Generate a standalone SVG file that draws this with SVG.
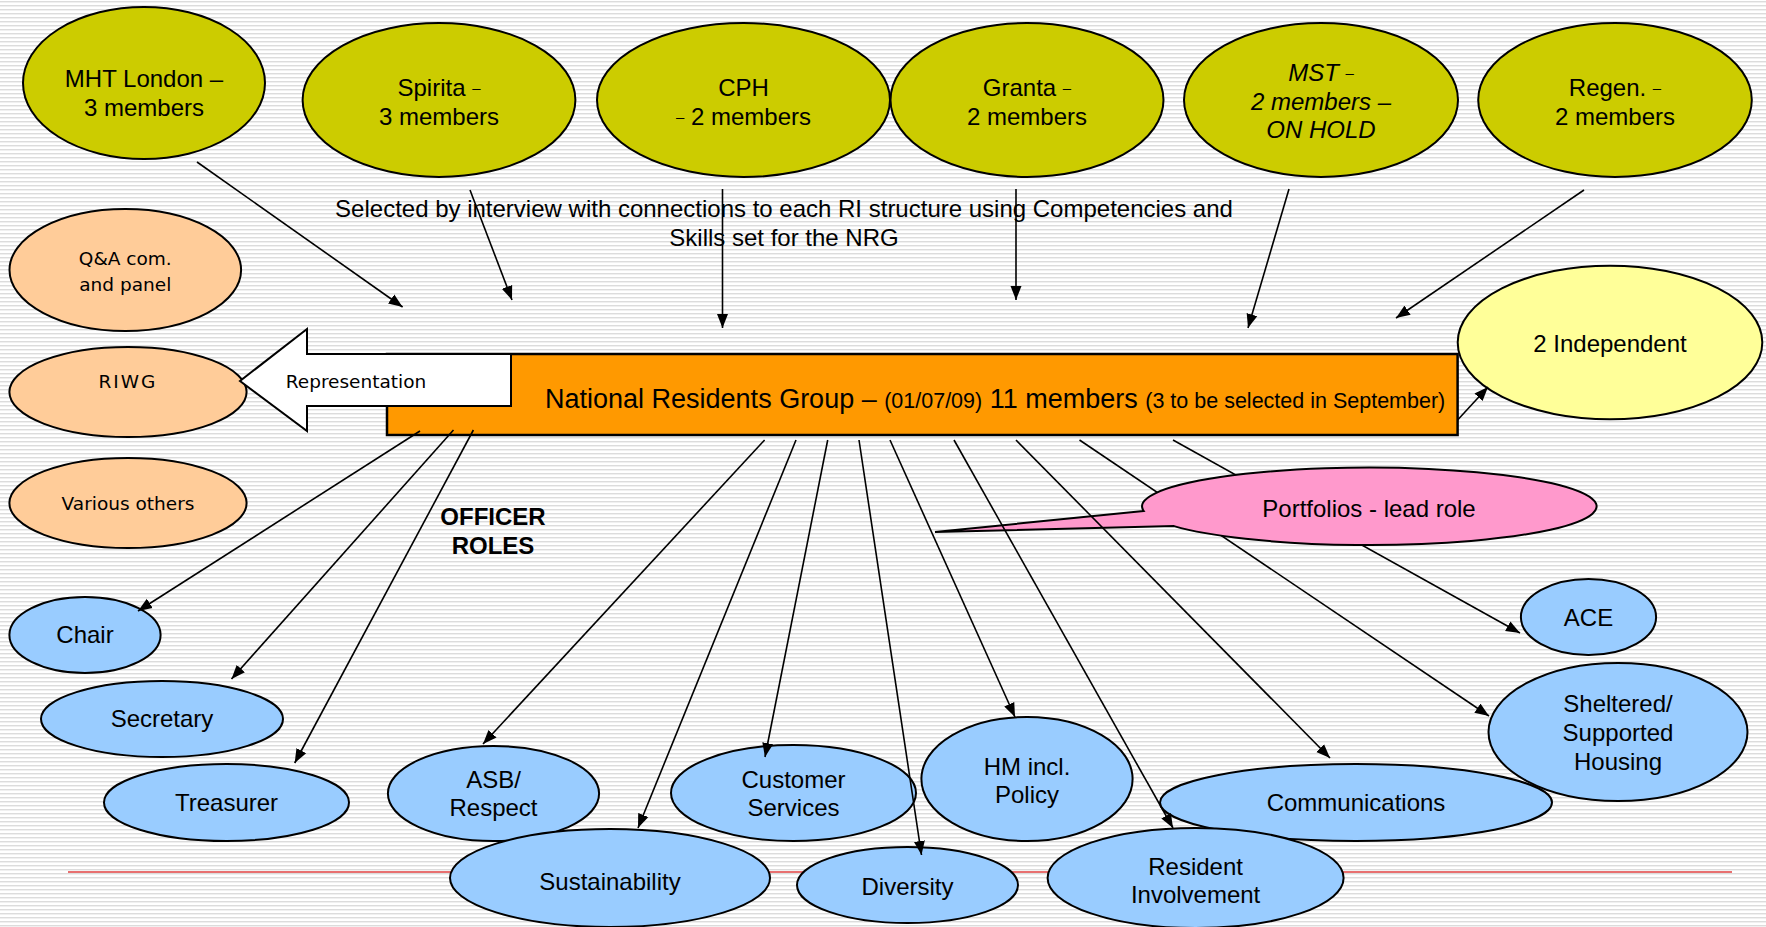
<svg xmlns="http://www.w3.org/2000/svg" width="1766" height="927" viewBox="0 0 1766 927">
<defs>
<pattern id="bg" width="8" height="4" patternUnits="userSpaceOnUse">
<rect width="8" height="4" fill="#ffffff"/>
<rect y="1" width="8" height="1" fill="#DCDCDC"/>
<rect y="2" width="8" height="1" fill="#F0F0F0"/>
</pattern>
<marker id="ah" markerWidth="16" markerHeight="12" refX="14" refY="6" orient="auto" markerUnits="userSpaceOnUse">
<path d="M0,0.5 L14,6 L0,11.5 z" fill="#000"/>
</marker>
<style>
.olive{fill:#CCCC00;stroke:#000;stroke-width:2}
.peach{fill:#FFCC99;stroke:#000;stroke-width:2}
.blue{fill:#99CCFF;stroke:#000;stroke-width:2}
.t{font-family:"Liberation Sans",Arial,sans-serif;font-size:24px;fill:#000;text-anchor:middle}
.th{font-family:"DejaVu Sans",Verdana,sans-serif;font-size:18.5px;fill:#000;text-anchor:middle}
.sd{font-size:15px}
.con line{stroke:#000;stroke-width:1.6;marker-end:url(#ah)}
</style>
</defs>
<rect width="1766" height="927" fill="url(#bg)"/>
<line x1="68" y1="872" x2="1732" y2="872" stroke="#E04040" stroke-width="1.5"/>

<g id="mht"><ellipse class="olive" cx="144" cy="83" rx="121" ry="76"/>
<text class="t" x="144" y="87">MHT London –</text><text class="t" x="144" y="116">3 members</text></g>
<g id="spirita"><ellipse class="olive" cx="439" cy="100" rx="136.4" ry="77"/>
<text class="t" x="439" y="96">Spirita <tspan class="sd" dy="-3">–</tspan></text><text class="t" x="439" y="125">3 members</text></g>
<g id="cph"><ellipse class="olive" cx="743.5" cy="100" rx="146.5" ry="77"/>
<text class="t" x="743.5" y="96">CPH</text><text class="t" x="743.5" y="125"><tspan class="sd" dy="-3">–</tspan><tspan dy="3"> 2 members</tspan></text></g>
<g id="granta"><ellipse class="olive" cx="1027" cy="100" rx="136.5" ry="77"/>
<text class="t" x="1027" y="96">Granta <tspan class="sd" dy="-3">–</tspan></text><text class="t" x="1027" y="125">2 members</text></g>
<g id="mst"><ellipse class="olive" cx="1321" cy="100" rx="137" ry="77"/>
<text class="t" x="1321" y="81" font-style="italic">MST <tspan class="sd" dy="-3">–</tspan></text><text class="t" x="1321" y="110" font-style="italic">2 members –</text><text class="t" x="1321" y="138" font-style="italic">ON HOLD</text></g>
<g id="regen"><ellipse class="olive" cx="1615" cy="100" rx="136.8" ry="77"/>
<text class="t" x="1615" y="96">Regen. <tspan class="sd" dy="-3">–</tspan></text><text class="t" x="1615" y="125">2 members</text></g>

<g id="selected-note"><text class="t" x="784" y="217">Selected by interview with connections to each RI structure using Competencies and</text>
<text class="t" x="784" y="246">Skills set for the NRG</text></g>

<g id="qa"><ellipse class="peach" cx="125.3" cy="270" rx="115.8" ry="61"/>
<text class="th" x="125.3" y="265">Q&amp;A com.</text><text class="th" x="125.3" y="291">and panel</text></g>
<g id="riwg"><ellipse class="peach" cx="128" cy="392" rx="118.6" ry="45"/>
<text class="th" x="128" y="387.5" letter-spacing="2">RIWG</text></g>
<g id="various"><ellipse class="peach" cx="128" cy="503" rx="118.6" ry="45"/>
<text class="th" x="128" y="510">Various others</text></g>

<g id="nrg"><rect x="387" y="354" width="1070.6" height="81" fill="#FF9900" stroke="#000" stroke-width="2.5"/>
<text font-family="&quot;Liberation Sans&quot;,Arial,sans-serif" font-size="27" x="545" y="407.5">National Residents Group – <tspan font-size="21.5">(01/07/09)</tspan> 11 members <tspan font-size="21.5">(3 to be selected in September)</tspan></text></g>

<g id="representation"><polygon points="240,381 307,329 307,354 511,354 511,406 307,406 307,431" fill="#fff" stroke="#000" stroke-width="2"/>
<text class="th" x="356" y="387.5" font-size="19">Representation</text></g>

<g id="independent"><ellipse cx="1610" cy="342.5" rx="152.3" ry="76.8" fill="#FFFF99" stroke="#000" stroke-width="2"/>
<text class="t" x="1610" y="352">2 Independent</text></g>

<g id="officer-roles"><text class="t" x="493" y="525" font-weight="bold">OFFICER</text><text class="t" x="493" y="553.5" font-weight="bold">ROLES</text></g>

<g id="chair"><ellipse class="blue" cx="85" cy="635" rx="75.6" ry="38"/><text class="t" x="85" y="643">Chair</text></g>
<g id="secretary"><ellipse class="blue" cx="162" cy="719" rx="121" ry="38"/><text class="t" x="162" y="727">Secretary</text></g>
<g id="treasurer"><ellipse class="blue" cx="226.5" cy="802.5" rx="122.5" ry="38.5"/><text class="t" x="226.5" y="811">Treasurer</text></g>
<g id="asb"><ellipse class="blue" cx="493.5" cy="793.5" rx="105.6" ry="47.5"/><text class="t" x="493.5" y="788">ASB/</text><text class="t" x="493.5" y="816">Respect</text></g>
<g id="customer"><ellipse class="blue" cx="793.5" cy="793" rx="122.5" ry="48"/><text class="t" x="793.5" y="788">Customer</text><text class="t" x="793.5" y="816">Services</text></g>
<g id="hm"><ellipse class="blue" cx="1027" cy="779" rx="105.6" ry="62"/><text class="t" x="1027" y="775">HM incl.</text><text class="t" x="1027" y="803">Policy</text></g>
<g id="sheltered"><ellipse class="blue" cx="1618" cy="732" rx="129.5" ry="69"/><text class="t" x="1618" y="712">Sheltered/</text><text class="t" x="1618" y="741">Supported</text><text class="t" x="1618" y="770">Housing</text></g>
<g id="communications"><ellipse class="blue" cx="1356" cy="802.5" rx="196" ry="38.5"/><text class="t" x="1356" y="811">Communications</text></g>
<g id="ace"><ellipse class="blue" cx="1588.5" cy="617" rx="67.6" ry="38"/><text class="t" x="1588.5" y="626">ACE</text></g>
<g id="sustainability"><ellipse class="blue" cx="610" cy="878" rx="160" ry="49"/><text class="t" x="610" y="890">Sustainability</text></g>
<g id="diversity"><ellipse class="blue" cx="907.5" cy="885" rx="110.5" ry="38"/><text class="t" x="907.5" y="895">Diversity</text></g>
<g id="resident"><ellipse class="blue" cx="1195.6" cy="878" rx="148" ry="50"/><text class="t" x="1195.6" y="875">Resident</text><text class="t" x="1195.6" y="903">Involvement</text></g>

<g id="connectors-under-callout" class="con">
<line x1="1079.5" y1="440" x2="1489" y2="716"/>
<line x1="1173" y1="440" x2="1520" y2="633"/>
</g>

<g id="portfolios"><path d="M1143.7,511 L935,532 L1174,526.1 A227.3,38.7 0 1 0 1143.7,511 Z" fill="#FF99CC" stroke="#000" stroke-width="2"/>
<text class="t" x="1369" y="516.5">Portfolios - lead role</text></g>

<g id="connectors" class="con">
<line x1="197" y1="162" x2="402.6" y2="307"/>
<line x1="470" y1="190" x2="512" y2="300"/>
<line x1="722.5" y1="189" x2="722.5" y2="328"/>
<line x1="1016" y1="189" x2="1016" y2="300"/>
<line x1="1289" y1="189" x2="1248" y2="328"/>
<line x1="1584" y1="190" x2="1396" y2="318"/>
<line x1="1457.6" y1="420" x2="1488" y2="387"/>
<line x1="420" y1="431" x2="138" y2="611"/>
<line x1="453.5" y1="430" x2="231.5" y2="679"/>
<line x1="473.4" y1="430" x2="294.7" y2="763"/>
<line x1="764.6" y1="440" x2="483" y2="744"/>
<line x1="796" y1="440" x2="638" y2="828"/>
<line x1="827.7" y1="440" x2="765" y2="757"/>
<line x1="859" y1="440" x2="921.5" y2="855"/>
<line x1="890" y1="440" x2="1015" y2="717"/>
<line x1="954" y1="440" x2="1173" y2="828"/>
<line x1="1016" y1="440" x2="1330" y2="758"/>
</g>
</svg>
